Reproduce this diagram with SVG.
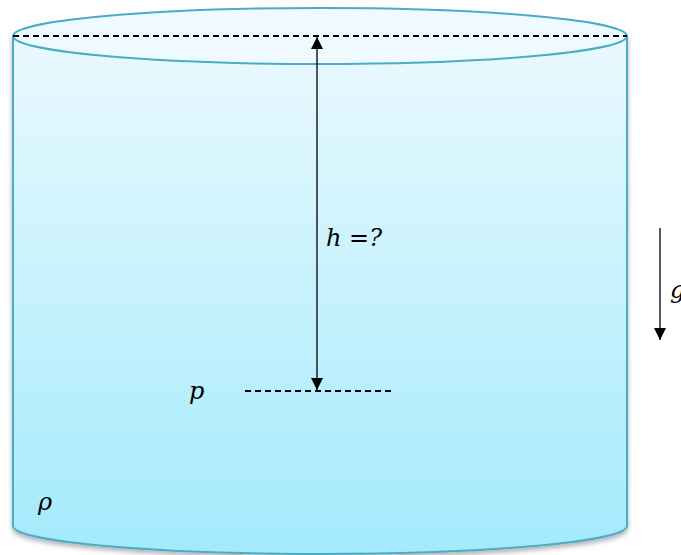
<svg xmlns="http://www.w3.org/2000/svg" width="681" height="555" viewBox="0 0 681 555">
<style>
.t{font-family:"DejaVu Serif","Liberation Serif",serif;font-style:italic;font-size:24px;fill:#000}
.dash{stroke:#000;stroke-width:1.8;stroke-dasharray:6 4;fill:none}
.arr{stroke:#000;stroke-width:1.3;fill:none}
</style>
<defs>
<linearGradient id="body" x1="0" y1="0" x2="0" y2="1">
<stop offset="0" stop-color="#EAF9FE"/>
<stop offset="1" stop-color="#A3EAFC"/>
</linearGradient>
<filter id="sh" x="-5%" y="-5%" width="110%" height="115%">
<feDropShadow dx="0" dy="3" stdDeviation="2.5" flood-color="#000" flood-opacity="0.3"/>
</filter>
<marker id="ah" viewBox="0 0 10 10" refX="10" refY="5" markerWidth="12" markerHeight="12" markerUnits="userSpaceOnUse" orient="auto-start-reverse">
<path d="M0,0 L10,5 L0,10 z" fill="#000"/>
</marker>
</defs>
<g id="cylinder">
<path d="M13,36 L13,526 A307,28 0 0 0 627,526 L627,36 Z" fill="url(#body)" stroke="#4BACC6" stroke-width="2" filter="url(#sh)"/>
<ellipse cx="320" cy="36" rx="307" ry="28" fill="#EEFAFF" stroke="#4BACC6" stroke-width="2"/>
</g>
<g id="connectors">
<line class="dash" x1="13" y1="36" x2="627" y2="36"/>
<line class="dash" x1="245" y1="391" x2="395" y2="391"/>
<line class="arr" x1="317" y1="37" x2="317" y2="390" marker-start="url(#ah)" marker-end="url(#ah)"/>
<line class="arr" x1="660" y1="228" x2="660" y2="340" marker-end="url(#ah)"/>
</g>
<g id="labels">
<text class="t" x="326" y="246">h =?</text>
<text class="t" x="189" y="399">p</text>
<text class="t" x="38" y="510">ρ</text>
<text class="t" x="670" y="298">g⃗</text>
</g>
</svg>
